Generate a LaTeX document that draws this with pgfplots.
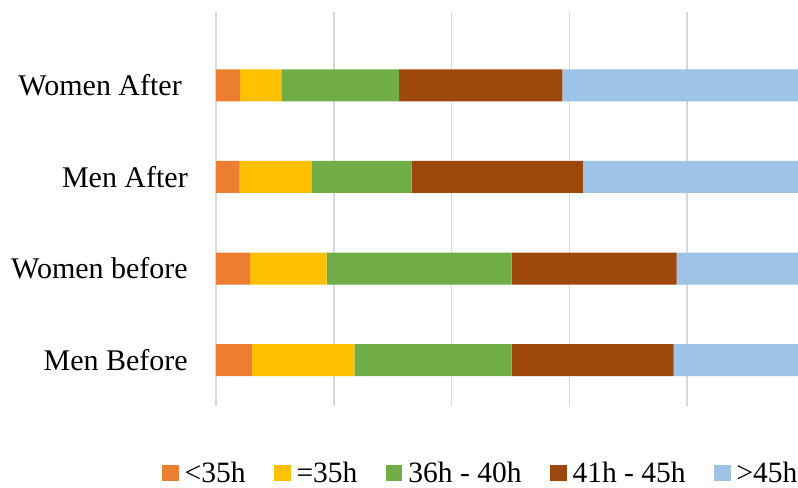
\documentclass[border=0pt]{standalone}
\usepackage{fontspec}
\setmainfont{Liberation Serif}
\usepackage{pgfplots}
\pgfplotsset{compat=1.18}
\usepackage{pgfplotstable}

\definecolor{cLess}{HTML}{ED7D31}
\definecolor{cEq}{HTML}{FFC000}
\definecolor{cMid}{HTML}{70AD47}
\definecolor{cHigh}{HTML}{9E480E}
\definecolor{cOver}{HTML}{9DC3E6}
\definecolor{gridgray}{HTML}{D9D9D9}

\newcommand{\labelfont}{\fontsize{30bp}{36bp}\selectfont}
\newcommand{\legendfont}{\fontsize{29.5bp}{35bp}\selectfont}

% share of weekly working hours (percent), one row per group
\pgfplotstableread{
y less eq mid high over
0 6.1 17.4 26.7 27.5 22.3
1 5.8 13.0 31.4 28.0 21.8
2 4.0 12.2 17.0 29.1 37.7
3 4.1 7.0 20.0 27.7 41.2
}\hours

\begin{document}
\begin{tikzpicture}
\path[use as bounding box] (0,0) rectangle (798bp,488bp);
\begin{axis}[
  at={(216bp,82bp)}, anchor=south west,
  scale only axis, width=582bp, height=394bp,
  xbar stacked, bar width=32bp,
  xmin=0, xmax=98.8, ymin=-0.5, ymax=3.8,
  xtick={0,20,40,60,80}, xticklabels={},
  xmajorgrids, grid style={draw=gridgray, line width=1.6bp},
  ytick={0,1,2,3},
  yticklabels={Men Before, Women before, Men After, {Women After\kern6bp}},
  major tick length=0pt,
  axis line style={draw=none},
  yticklabel style={font=\labelfont, inner sep=0pt, xshift=-28bp},
  legend columns=5,
  legend style={draw=none, fill=none, inner sep=0pt,
    at={(axis description cs:-0.0928,-0.170)}, anchor=west,
    font=\legendfont,
    nodes={inner sep=0pt},
    /tikz/every even column/.append style={column sep=28.5bp},
    /tikz/every odd column/.append style={column sep=6bp}},
  legend image code/.code={\fill[#1,draw=none] (0bp,-8.5bp) rectangle (16.5bp,8bp);},
]
\addplot[fill=cLess, draw=none] table[x=less, y=y] {\hours};
\addplot[fill=cEq, draw=none] table[x=eq, y=y] {\hours};
\addplot[fill=cMid, draw=none] table[x=mid, y=y] {\hours};
\addplot[fill=cHigh, draw=none] table[x=high, y=y] {\hours};
\addplot[fill=cOver, draw=none] table[x=over, y=y] {\hours};
\legend{<35h, =35h, 36h - 40h, 41h - 45h, >45h}
\end{axis}
\end{tikzpicture}
\end{document}
